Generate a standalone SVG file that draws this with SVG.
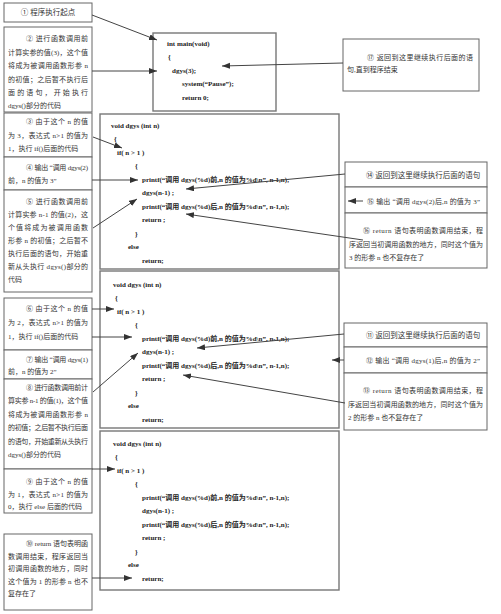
<svg xmlns="http://www.w3.org/2000/svg" width="501" height="614" viewBox="0 0 501 614">
<style>
.bx{fill:#fff;stroke:#666;stroke-width:1}
.fb{fill:#fff;stroke:#777;stroke-width:1.4}
.t{font-family:"Liberation Serif","Noto Sans CJK SC",serif;font-size:7px;fill:#333}
.tl{font-size:7.5px}
.c{font-family:"Liberation Serif","Noto Sans CJK SC",serif;font-size:7px;font-weight:bold;fill:#222}
.ln{stroke:#444;stroke-width:1;fill:none;marker-end:url(#ah)}
</style>
<defs>
<marker id="ah" markerUnits="userSpaceOnUse" markerWidth="9" markerHeight="7" refX="8" refY="3" orient="auto">
<path d="M0,0 L8,3 L0,6 z" fill="#333"/>
</marker>
</defs>
<rect width="501" height="614" fill="#fff"/>

<g id="n1"><rect class="bx" x="4" y="3" width="88" height="19"/>
<text class="t tl" x="48" y="15" text-anchor="middle">① 程序执行起点</text></g>

<g id="n2"><rect class="bx" x="4" y="27" width="88" height="85"/>
<text class="t" x="26" y="41" textLength="62" lengthAdjust="spacing">② 进行函数调用前</text>
<text class="t" x="8" y="54.5" textLength="80" lengthAdjust="spacing">计算实参的值(3)，这个值</text>
<text class="t" x="8" y="68" textLength="80" lengthAdjust="spacing">将成为被调用函数形参 n</text>
<text class="t" x="8" y="81.5" textLength="80" lengthAdjust="spacing">的初值；之后暂不执行后</text>
<text class="t" x="8" y="95" textLength="80" lengthAdjust="spacing">面的语句，开始执行</text>
<text class="t" x="8" y="108">dgys()部分的代码</text></g>

<g id="n3"><rect class="bx" x="4" y="113" width="88" height="44"/>
<text class="t" x="26" y="124" textLength="62" lengthAdjust="spacing">③ 由于这个 n 的值</text>
<text class="t" x="8" y="137.5" textLength="80" lengthAdjust="spacing">为 3，表达式 n&gt;1 的值为</text>
<text class="t" x="8" y="151">1，执行 if()后面的代码</text></g>

<g id="n4"><rect class="bx" x="4" y="157" width="88" height="33"/>
<text class="t" x="26" y="170" textLength="62" lengthAdjust="spacing">④ 输出 “调用 dgys(2)</text>
<text class="t" x="8" y="183">前，n 的值为 3”</text></g>

<g id="n5"><rect class="bx" x="4" y="190" width="88" height="102"/>
<text class="t" x="26" y="204" textLength="62" lengthAdjust="spacing">⑤ 进行函数调用前</text>
<text class="t" x="8" y="217" textLength="80" lengthAdjust="spacing">计算实参 n-1 的值(2)，这</text>
<text class="t" x="8" y="230" textLength="80" lengthAdjust="spacing">个值将成为被调用函数</text>
<text class="t" x="8" y="243" textLength="80" lengthAdjust="spacing">形参 n 的初值；之后暂不</text>
<text class="t" x="8" y="256" textLength="80" lengthAdjust="spacing">执行后面的语句，开始重</text>
<text class="t" x="8" y="269" textLength="80" lengthAdjust="spacing">新从头执行 dgys()部分的</text>
<text class="t" x="8" y="282">代码</text></g>

<g id="n6"><rect class="bx" x="4" y="298" width="88" height="52"/>
<text class="t" x="26" y="311" textLength="62" lengthAdjust="spacing">⑥ 由于这个 n 的值</text>
<text class="t" x="8" y="325" textLength="80" lengthAdjust="spacing">为 2，表达式 n&gt;1 的值为</text>
<text class="t" x="8" y="339">1，执行 if()后面的代码</text></g>

<g id="n7"><rect class="bx" x="4" y="350" width="88" height="29"/>
<text class="t" x="26" y="362" textLength="62" lengthAdjust="spacing">⑦ 输出 “调用 dgys(1)</text>
<text class="t" x="8" y="374">前，n 的值为 2”</text></g>

<g id="n8"><rect class="bx" x="4" y="379" width="88" height="90"/>
<text class="t" x="26" y="390" textLength="62" lengthAdjust="spacing">⑧ 进行函数调用前计</text>
<text class="t" x="8" y="403" textLength="80" lengthAdjust="spacing">算实参 n-1 的值(1)，这个值</text>
<text class="t" x="8" y="416.5" textLength="80" lengthAdjust="spacing">将成为被调用函数形参 n</text>
<text class="t" x="8" y="430" textLength="80" lengthAdjust="spacing">的初值；之后暂不执行后面</text>
<text class="t" x="8" y="443.5" textLength="80" lengthAdjust="spacing">的语句，开始重新从头执行</text>
<text class="t" x="8" y="457">dgys()部分的代码</text></g>

<g id="n9"><rect class="bx" x="4" y="469" width="88" height="44"/>
<text class="t" x="26" y="484" textLength="62" lengthAdjust="spacing">⑨ 由于这个 n 的值</text>
<text class="t" x="8" y="496.5" textLength="80" lengthAdjust="spacing">为 1，表达式 n&gt;1 的值为</text>
<text class="t" x="8" y="509">0，执行 else 后面的代码</text></g>

<g id="n10"><rect class="bx" x="4" y="534" width="88" height="76"/>
<text class="t" x="26" y="546" textLength="62" lengthAdjust="spacing">⑩ return 语句表明函</text>
<text class="t" x="8" y="558.5" textLength="80" lengthAdjust="spacing">数调用结束，程序返回当</text>
<text class="t" x="8" y="571" textLength="80" lengthAdjust="spacing">初调用函数的地方，同时</text>
<text class="t" x="8" y="583.5" textLength="80" lengthAdjust="spacing">这个值为 1 的形参 n 也不</text>
<text class="t" x="8" y="596">复存在了</text></g>

<g id="main"><rect class="fb" x="153" y="33" width="123" height="78"/>
<text class="c" x="167" y="45.5">int main(void)</text>
<text class="c" x="168" y="58.5">{</text>
<text class="c" x="172" y="72.5">dgys(3);</text>
<text class="c" x="182" y="86">system(“Pause”);</text>
<text class="c" x="182" y="99.5">return 0;</text></g>

<g id="f1"><rect class="fb" x="100" y="114" width="239" height="155"/>
<text class="c" x="111" y="127.5">void dgys (int n)</text>
<text class="c" x="114" y="140.5">{</text>
<text class="c" x="117" y="154.5">if( n &gt; 1 )</text>
<text class="c" x="135" y="167.5">{</text>
<text class="c" x="142" y="181.5">printf(“调用 dgys(%d)前,n 的值为%d\n”, n-1,n);</text>
<text class="c" x="142" y="194.5">dgys(n-1) ;</text>
<text class="c" x="142" y="208.5">printf(“调用 dgys(%d)后,n 的值为%d\n”, n-1,n);</text>
<text class="c" x="142" y="221.5">return ;</text>
<text class="c" x="135" y="235.5">}</text>
<text class="c" x="128" y="248.5">else</text>
<text class="c" x="142" y="262.5">return;</text></g>

<g id="f2"><rect class="fb" x="100" y="271" width="239" height="157"/>
<text class="c" x="113" y="286.5">void dgys (int n)</text>
<text class="c" x="115" y="299.5">{</text>
<text class="c" x="117" y="313.5">if( n &gt; 1 )</text>
<text class="c" x="135" y="326.5">{</text>
<text class="c" x="142" y="340.5">printf(“调用 dgys(%d)前,n 的值为%d\n”, n-1,n);</text>
<text class="c" x="142" y="353.5">dgys(n-1) ;</text>
<text class="c" x="142" y="367.5">printf(“调用 dgys(%d)后,n 的值为%d\n”, n-1,n);</text>
<text class="c" x="142" y="380.5">return ;</text>
<text class="c" x="135" y="394.5">}</text>
<text class="c" x="128" y="407.5">else</text>
<text class="c" x="142" y="421.5">return;</text></g>

<g id="f3"><rect class="fb" x="100" y="431" width="239" height="159"/>
<text class="c" x="113" y="445.5">void dgys (int n)</text>
<text class="c" x="115" y="458.5">{</text>
<text class="c" x="117" y="472.5">if( n &gt; 1 )</text>
<text class="c" x="135" y="485.5">{</text>
<text class="c" x="142" y="499.5">printf(“调用 dgys(%d)前,n 的值为%d\n”, n-1,n);</text>
<text class="c" x="142" y="512.5">dgys(n-1) ;</text>
<text class="c" x="142" y="526.5">printf(“调用 dgys(%d)后,n 的值为%d\n”, n-1,n);</text>
<text class="c" x="142" y="539.5">return ;</text>
<text class="c" x="135" y="553.5">}</text>
<text class="c" x="128" y="566.5">else</text>
<text class="c" x="142" y="580.5">return;</text></g>

<g id="n17"><rect class="bx" x="343" y="39" width="136" height="52"/>
<text class="t" x="367" y="60" textLength="106" lengthAdjust="spacing">⑰ 返回到这里继续执行后面的语</text>
<text class="t" x="347" y="72">句,直到程序结束</text></g>

<g id="n14"><rect class="bx" x="345" y="162" width="142" height="25"/>
<text class="t tl" x="366" y="177.5">⑭ 返回到这里继续执行后面的语句</text></g>
<g id="n15"><rect class="bx" x="345" y="187" width="142" height="26"/>
<text class="t" x="367" y="203.5" textLength="113" lengthAdjust="spacing">⑮ 输出 “调用 dgys(2)后,n 的值为 3”</text></g>
<g id="n16"><rect class="bx" x="345" y="213" width="142" height="55"/>
<text class="t" x="363" y="232.5" textLength="120" lengthAdjust="spacing">⑯ return 语句表明函数调用结束，程</text>
<text class="t" x="349" y="246.5" textLength="134" lengthAdjust="spacing">序返回当初调用函数的地方，同时这个值为</text>
<text class="t" x="349" y="260">3 的形参 n 也不复存在了</text></g>

<g id="n11"><rect class="bx" x="344" y="323" width="143" height="24"/>
<text class="t tl" x="366" y="337.5">⑪ 返回到这里继续执行后面的语句</text></g>
<g id="n12"><rect class="bx" x="344" y="347" width="143" height="26"/>
<text class="t" x="366" y="362.5" textLength="114" lengthAdjust="spacing">⑫ 输出 “调用 dgys(1)后,n 的值为 2”</text></g>
<g id="n13"><rect class="bx" x="344" y="373" width="143" height="57"/>
<text class="t" x="363" y="392.5" textLength="120" lengthAdjust="spacing">⑬ return 语句表明函数调用结束，程</text>
<text class="t" x="348" y="406.5" textLength="135" lengthAdjust="spacing">序返回当初调用函数的地方，同时这个值为</text>
<text class="t" x="348" y="420">2 的形参 n 也不复存在了</text></g>

<g id="connectors">
<line class="ln" x1="92" y1="15" x2="157" y2="40"/>
<line class="ln" x1="92" y1="71" x2="157" y2="71"/>
<line class="ln" x1="343" y1="63" x2="222" y2="66"/>
<line class="ln" x1="93" y1="137" x2="122" y2="148"/>
<line class="ln" x1="92" y1="180" x2="138" y2="180"/>
<line class="ln" x1="93" y1="228" x2="137" y2="199"/>
<line class="ln" x1="345" y1="174" x2="186" y2="189"/>
<line class="ln" x1="363" y1="201" x2="348" y2="201"/>
<line class="ln" x1="363" y1="240" x2="186" y2="214"/>
<line class="ln" x1="92" y1="309" x2="114" y2="309"/>
<line class="ln" x1="92" y1="337" x2="132" y2="337"/>
<line class="ln" x1="93" y1="392" x2="138" y2="353"/>
<line class="ln" x1="344" y1="334" x2="197" y2="348"/>
<line class="ln" x1="344" y1="360" x2="332" y2="360"/>
<line class="ln" x1="345" y1="403" x2="183" y2="375"/>
<line class="ln" x1="92" y1="469" x2="115" y2="469"/>
<line class="ln" x1="92" y1="578" x2="132" y2="578"/>
</g>
</svg>
